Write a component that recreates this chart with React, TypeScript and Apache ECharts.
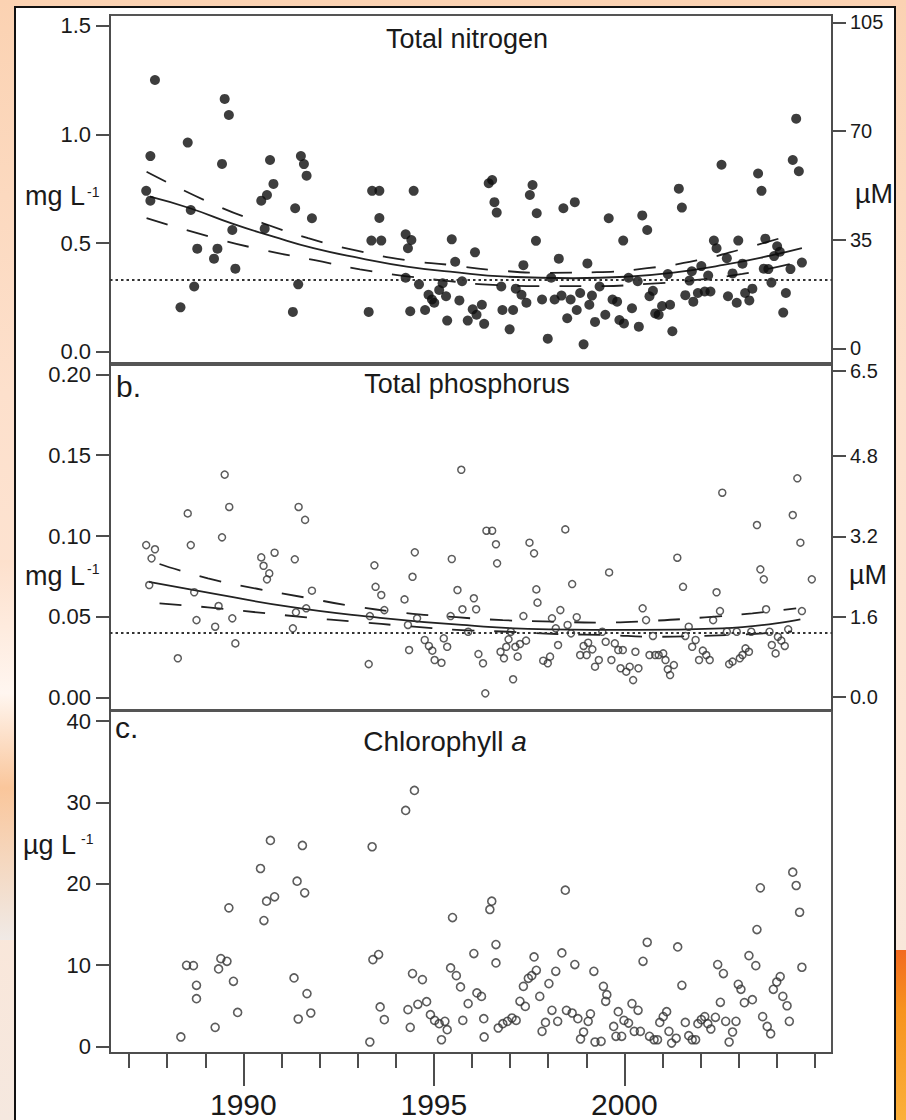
import React, { useEffect, useRef } from "react";
import * as echarts from "echarts";

// ---------- Panel a: Total nitrogen (mg L-1) ----------
const tnYear = [
  1987.68, 1987.56, 1987.45, 1987.56, 1988.35, 1988.54, 1988.62, 1988.71, 1988.79, 1989.23,
  1989.32, 1989.44, 1989.51, 1989.62, 1989.71, 1989.79, 1990.47, 1990.56, 1990.62, 1990.7,
  1990.79, 1991.3, 1991.36, 1991.44, 1991.51, 1991.59, 1991.66, 1991.8, 1993.29, 1993.38,
  1993.57, 1993.57, 1993.36, 1993.62, 1994.26, 1994.32, 1994.41, 1994.47, 1994.26, 1994.38,
  1994.61, 1994.77, 1994.86, 1994.95, 1995.01, 1995.14, 1995.23, 1995.32, 1995.35, 1995.47,
  1995.56, 1995.67, 1995.74, 1995.89, 1996.02, 1996.08, 1996.12, 1996.26, 1996.32, 1996.44,
  1996.53, 1996.59, 1996.65, 1996.77, 1996.8, 1996.99, 1997.08, 1997.15, 1997.3, 1997.35,
  1997.43, 1997.52, 1997.59, 1997.7, 1997.68, 1997.84, 1997.99, 1998.08, 1998.17, 1998.28,
  1998.35, 1998.4, 1998.5, 1998.59, 1998.7, 1998.75, 1998.84, 1998.93, 1999.03, 1999.08,
  1999.15, 1999.23, 1999.35, 1999.5, 1999.59, 1999.69, 1999.81, 1999.87, 1999.97, 1999.99,
  2000.11, 2000.2, 2000.35, 2000.38, 2000.47, 2000.6, 2000.66, 2000.75, 2000.81, 2000.9,
  2000.99, 2001.14, 2001.2, 2001.26, 2001.43, 2001.51, 2001.6, 2001.71, 2001.77, 2001.81,
  2001.93, 2002.02, 2002.11, 2002.2, 2002.26, 2002.35, 2002.42, 2002.55, 2002.69, 2002.72,
  2002.84, 2002.95, 2002.99, 2003.1, 2003.17, 2003.28, 2003.36, 2003.51, 2003.6, 2003.66,
  2003.7, 2003.78, 2003.86, 2003.93, 2004.01, 2004.08, 2004.17, 2004.24, 2004.36, 2004.42,
  2004.51, 2004.58, 2004.66,
];
const tnValue = [
  1.25, 0.9, 0.74, 0.695, 0.204, 0.962, 0.652, 0.3, 0.474, 0.428,
  0.474, 0.864, 1.163, 1.089, 0.56, 0.382, 0.695, 0.566, 0.721, 0.882,
  0.772, 0.183, 0.66, 0.31, 0.9, 0.863, 0.81, 0.614, 0.183, 0.74,
  0.74, 0.615, 0.511, 0.511, 0.54, 0.476, 0.514, 0.74, 0.34, 0.186,
  0.31, 0.192, 0.262, 0.24, 0.225, 0.284, 0.315, 0.255, 0.143, 0.517,
  0.414, 0.236, 0.324, 0.143, 0.195, 0.457, 0.17, 0.216, 0.128, 0.775,
  0.79, 0.688, 0.64, 0.3, 0.192, 0.103, 0.192, 0.29, 0.262, 0.398,
  0.225, 0.721, 0.767, 0.637, 0.51, 0.24, 0.06, 0.34, 0.24, 0.428,
  0.258, 0.66, 0.154, 0.24, 0.688, 0.192, 0.27, 0.034, 0.406, 0.216,
  0.258, 0.137, 0.3, 0.17, 0.614, 0.24, 0.23, 0.146, 0.511, 0.13,
  0.34, 0.2, 0.324, 0.115, 0.627, 0.56, 0.255, 0.28, 0.176, 0.17,
  0.21, 0.357, 0.216, 0.094, 0.75, 0.663, 0.26, 0.327, 0.37, 0.23,
  0.27, 0.394, 0.277, 0.35, 0.277, 0.511, 0.476, 0.86, 0.43, 0.255,
  0.36, 0.225, 0.511, 0.405, 0.27, 0.236, 0.29, 0.82, 0.74, 0.382,
  0.52, 0.38, 0.318, 0.44, 0.485, 0.46, 0.18, 0.27, 0.38, 0.882,
  1.072, 0.83, 0.41,
];
const tnFitYear = [1987.55, 1988.6, 1989.73, 1990.79, 1991.84, 1993.06, 1994.29, 1995.43, 1996.91, 1998.66, 2000.06, 2001.29, 2002.6, 2003.91, 2004.66];
const tnFitValue = [0.713, 0.66, 0.588, 0.529, 0.476, 0.43, 0.391, 0.368, 0.345, 0.338, 0.345, 0.364, 0.399, 0.445, 0.476];
const tnUpperYear = [1987.46, 1989.26, 1990.52, 1991.7, 1992.98, 1994.24, 1995.43, 1996.55, 1998.0, 1999.28, 2000.6, 2001.9, 2003.17, 2004.37];
const tnUpperValue = [0.828, 0.675, 0.591, 0.522, 0.465, 0.422, 0.399, 0.376, 0.363, 0.366, 0.384, 0.42, 0.476, 0.537];
const tnLowerYear = [1987.46, 1989.26, 1990.52, 1991.84, 1993.06, 1994.24, 1995.4, 1996.55, 1998.0, 1999.3, 2000.6, 2001.9, 2003.1, 2004.37];
const tnLowerValue = [0.614, 0.522, 0.468, 0.422, 0.379, 0.348, 0.325, 0.307, 0.302, 0.302, 0.312, 0.33, 0.358, 0.404];
const tnReference = 0.333;

// ---------- Panel b: Total phosphorus (mg L-1) ----------
const tpYear = [
  1987.45, 1987.68, 1987.59, 1987.53, 1988.28, 1988.54, 1988.62, 1988.71, 1988.77, 1989.26,
  1989.35, 1989.44, 1989.51, 1989.63, 1989.71, 1989.79, 1990.47, 1990.53, 1990.62, 1990.68,
  1990.82, 1991.3, 1991.35, 1991.45, 1991.62, 1991.38, 1991.65, 1991.8, 1993.29, 1993.32,
  1993.44, 1993.47, 1993.62, 1993.7, 1994.23, 1994.32, 1994.35, 1994.44, 1994.5, 1994.56,
  1994.76, 1994.87, 1994.96, 1995.02, 1995.2, 1995.26, 1995.35, 1995.44, 1995.47, 1995.62,
  1995.72, 1995.75, 1995.9, 1996.05, 1996.11, 1996.17, 1996.29, 1996.35, 1996.38, 1996.53,
  1996.63, 1996.66, 1996.75, 1996.84, 1996.9, 1996.96, 1997.02, 1997.08, 1997.14, 1997.2,
  1997.26, 1997.35, 1997.42, 1997.51, 1997.63, 1997.69, 1997.72, 1997.87, 1997.99, 1998.05,
  1998.1, 1998.2, 1998.26, 1998.32, 1998.45, 1998.51, 1998.6, 1998.63, 1998.75, 1998.84,
  1998.93, 1999.01, 1999.05, 1999.16, 1999.23, 1999.33, 1999.42, 1999.51, 1999.6, 1999.66,
  1999.75, 1999.84, 1999.9, 1999.96, 2000.05, 2000.14, 2000.23, 2000.29, 2000.37, 2000.48,
  2000.57, 2000.66, 2000.75, 2000.81, 2000.9, 2001.02, 2001.08, 2001.14, 2001.2, 2001.3,
  2001.39, 2001.54, 2001.6, 2001.69, 2001.78, 2001.87, 2001.96, 2002.06, 2002.15, 2002.24,
  2002.33, 2002.42, 2002.51, 2002.57, 2002.69, 2002.75, 2002.84, 2002.95, 2003.03, 2003.1,
  2003.18, 2003.27, 2003.33, 2003.48, 2003.57, 2003.66, 2003.72, 2003.81, 2003.87, 2003.97,
  2004.03, 2004.12, 2004.21, 2004.3, 2004.42, 2004.54, 2004.62, 2004.66, 2004.92,
];
const tpValue = [
  0.0944, 0.0918, 0.0862, 0.0697, 0.0244, 0.114, 0.0944, 0.0652, 0.048, 0.0439,
  0.0567, 0.0992, 0.138, 0.118, 0.0491, 0.0336, 0.0868, 0.0816, 0.0732, 0.0769,
  0.0897, 0.0429, 0.0856, 0.118, 0.11, 0.0528, 0.0553, 0.0662, 0.0208, 0.0505,
  0.0819, 0.0686, 0.0635, 0.0542, 0.0608, 0.045, 0.0295, 0.0748, 0.0899, 0.0491,
  0.0357, 0.032, 0.0291, 0.0233, 0.0216, 0.0367, 0.0315, 0.0505, 0.0858, 0.0666,
  0.141, 0.0547, 0.0408, 0.0615, 0.0547, 0.027, 0.0213, 0.0027, 0.1033, 0.1033,
  0.0949, 0.0831, 0.0284, 0.0244, 0.0315, 0.0361, 0.0408, 0.0114, 0.0315, 0.0254,
  0.0332, 0.0505, 0.0353, 0.0959, 0.0893, 0.067, 0.0588, 0.0229, 0.0213, 0.0254,
  0.0491, 0.0429, 0.0326, 0.0542, 0.1041, 0.045, 0.0398, 0.0703, 0.0498, 0.0264,
  0.032, 0.0264, 0.034, 0.0299, 0.0192, 0.0233, 0.0408, 0.0346, 0.0775, 0.0233,
  0.0336, 0.0295, 0.0182, 0.0295, 0.0161, 0.0192, 0.0109, 0.0284, 0.0182, 0.0553,
  0.048, 0.0264, 0.0382, 0.0264, 0.0264, 0.0274, 0.0233, 0.0176, 0.014, 0.0202,
  0.0866, 0.0686, 0.0382, 0.0439, 0.0315, 0.0357, 0.0233, 0.0291, 0.0264, 0.0233,
  0.048, 0.0652, 0.0536, 0.1268, 0.0408, 0.0208, 0.0223, 0.0408, 0.0244, 0.0264,
  0.0305, 0.0284, 0.0408, 0.1068, 0.0794, 0.0732, 0.0547, 0.0408, 0.0326, 0.0274,
  0.0377, 0.0353, 0.032, 0.0423, 0.113, 0.1357, 0.0959, 0.0536, 0.0732,
];
const tpFitYear = [1987.52, 1988.71, 1991.19, 1993.32, 1995.74, 1998.02, 2000.29, 2002.57, 2004.62];
const tpFitValue = [0.0717, 0.0666, 0.0563, 0.0501, 0.045, 0.0423, 0.0419, 0.0429, 0.0485];
const tpUpperYear = [1987.8, 1989.07, 1990.36, 1991.59, 1992.86, 1994.23, 1995.59, 1996.81, 1998.17, 1999.38, 2000.75, 2002.11, 2003.36, 2004.51];
const tpUpperValue = [0.0827, 0.0738, 0.0674, 0.0621, 0.0567, 0.0525, 0.0498, 0.048, 0.047, 0.0465, 0.0476, 0.0497, 0.0522, 0.0553];
const tpLowerYear = [1987.8, 1989.07, 1990.36, 1991.65, 1992.94, 1994.3, 1995.6, 1996.96, 1998.25, 1999.54, 2000.75, 2002.04, 2003.33, 2004.4];
const tpLowerValue = [0.0584, 0.0559, 0.0528, 0.0497, 0.047, 0.0443, 0.042, 0.0408, 0.0394, 0.0388, 0.0377, 0.0382, 0.0394, 0.041];
const tpReference = 0.042;

// ---------- Panel c: Chlorophyll a (ug L-1) ----------
const chlYear = [
  1988.36, 1988.51, 1988.69, 1988.77, 1988.77, 1989.26, 1989.35, 1989.41, 1989.57, 1989.62,
  1989.74, 1989.85, 1990.45, 1990.54, 1990.61, 1990.71, 1990.82, 1991.33, 1991.41, 1991.44,
  1991.55, 1991.61, 1991.67, 1991.77, 1993.32, 1993.38, 1993.4, 1993.55, 1993.59, 1993.7,
  1994.26, 1994.49, 1994.32, 1994.38, 1994.44, 1994.58, 1994.7, 1994.81, 1994.91, 1995.02,
  1995.14, 1995.2, 1995.29, 1995.35, 1995.44, 1995.49, 1995.59, 1995.7, 1995.76, 1995.9,
  1996.05, 1996.13, 1996.25, 1996.31, 1996.32, 1996.47, 1996.52, 1996.63, 1996.63, 1996.69,
  1996.81, 1996.93, 1997.05, 1997.16, 1997.26, 1997.4, 1997.35, 1997.48, 1997.57, 1997.63,
  1997.69, 1997.78, 1997.84, 1997.93, 1998.02, 1998.1, 1998.2, 1998.25, 1998.36, 1998.45,
  1998.48, 1998.63, 1998.7, 1998.78, 1998.85, 1998.93, 1999.05, 1999.11, 1999.2, 1999.23,
  1999.39, 1999.45, 1999.54, 1999.51, 1999.72, 1999.78, 1999.84, 1999.93, 1999.99, 2000.11,
  2000.2, 2000.26, 2000.36, 2000.42, 2000.49, 2000.6, 2000.66, 2000.78, 2000.87, 2000.93,
  2001.02, 2001.11, 2001.17, 2001.24, 2001.36, 2001.4, 2001.51, 2001.6, 2001.69, 2001.78,
  2001.87, 2001.93, 2002.02, 2002.11, 2002.19, 2002.27, 2002.39, 2002.45, 2002.52, 2002.6,
  2002.66, 2002.75, 2002.84, 2002.93, 2002.99, 2003.06, 2003.15, 2003.27, 2003.36, 2003.45,
  2003.48, 2003.57, 2003.63, 2003.75, 2003.84, 2003.91, 2004.0, 2004.09, 2004.16, 2004.27,
  2004.33, 2004.42, 2004.51, 2004.6, 2004.66,
];
const chlValue = [
  1.16, 9.97, 9.93, 7.51, 5.87, 2.34, 9.52, 10.79, 10.46, 17.03,
  8.0, 4.18, 21.87, 15.47, 17.85, 25.32, 18.39, 8.42, 20.31, 3.37,
  24.7, 18.88, 6.49, 4.11, 0.54, 24.54, 10.67, 11.29, 4.85, 3.29,
  29.01, 31.47, 4.52, 2.34, 8.95, 5.17, 8.21, 5.5, 3.9, 3.2,
  2.79, 0.82, 3.08, 2.06, 9.65, 15.84, 8.7, 7.31, 3.2, 5.26,
  11.41, 6.57, 6.15, 3.41, 1.16, 16.83, 17.85, 12.52, 10.26, 2.26,
  2.79, 3.08, 3.49, 3.2, 5.54, 4.92, 7.38, 8.37, 8.7, 11.0,
  9.35, 6.15, 1.85, 2.95, 7.72, 4.44, 9.23, 3.08, 11.49, 19.2,
  4.43, 4.11, 10.06, 3.41, 0.91, 1.77, 3.08, 4.0, 9.23, 0.54,
  0.62, 7.38, 6.36, 5.54, 2.46, 1.24, 4.27, 1.24, 3.2, 2.87,
  5.26, 1.85, 4.44, 1.85, 10.46, 12.8, 1.24, 0.82, 0.82, 2.95,
  3.66, 4.27, 1.85, 0.41, 1.0, 12.23, 7.51, 2.95, 1.32, 0.82,
  0.82, 2.79, 3.29, 3.66, 2.79, 2.14, 3.58, 10.06, 5.42, 8.95,
  3.08, 0.54, 1.77, 3.08, 7.63, 7.02, 5.38, 11.16, 5.74, 9.93,
  14.36, 19.49, 3.66, 2.46, 1.56, 7.02, 7.92, 8.58, 6.15, 5.0,
  3.08, 21.42, 19.78, 16.49, 9.73,
];

// ---------- Axes ----------
const yearTicks = [1987, 1988, 1989, 1990, 1991, 1992, 1993, 1994, 1995, 1996, 1997, 1998, 1999, 2000, 2001, 2002, 2003, 2004, 2005];
const yearLabels = [1990, 1995, 2000];
const tnTicks = [0, 0.5, 1.0, 1.5];
const tnMicroTicks = [0, 35, 70, 105];
const tpTicks = [0, 0.05, 0.1, 0.15, 0.2];
const tpMicroTicks = [0, 1.6, 3.2, 4.8, 6.5];
const chlTicks = [0, 10, 20, 30, 40];

const FONT = '"Liberation Sans", Arial, Helvetica, sans-serif';
const INK = "#1a1a1a";
const AXIS = "#4d4d4d";
const X_MIN = 1986.5;
const X_MAX = 2005.45;

function pairs(xs: number[], ys: number[]) {
  return xs.map((x, i) => [x, ys[i]]);
}

const axisLine = { color: AXIS, width: 2 };

function yAxis(gridIndex: number, position: string, min: number, max: number, ticks: number[], fmt: (v: number) => string) {
  const left = position === "left";
  return {
    type: "value",
    gridIndex,
    position,
    min,
    max,
    splitLine: { show: false },
    axisLine: { show: true, onZero: false, lineStyle: axisLine },
    axisTick: { show: true, inside: false, length: 14, customValues: ticks, lineStyle: axisLine },
    axisLabel: {
      show: true,
      customValues: ticks,
      formatter: fmt,
      fontSize: left ? 22 : 20,
      lineHeight: left ? 20 : 17,
      color: INK,
      fontFamily: FONT,
      margin: left ? 19 : 18,
    },
  };
}

function xAxis(gridIndex: number, extra: any) {
  return {
    type: "value",
    gridIndex,
    min: X_MIN,
    max: X_MAX,
    splitLine: { show: false },
    ...extra,
  };
}

function curve(xs: number[], ys: number[], dashed: boolean, xi: number, yi: number) {
  return {
    type: "line",
    xAxisIndex: xi,
    yAxisIndex: yi,
    data: pairs(xs, ys),
    smooth: true,
    showSymbol: false,
    symbol: "none",
    silent: true,
    z: 3,
    lineStyle: { color: "#222", width: 1.8, type: dashed ? [22, 20] : "solid" },
  };
}

function refLine(v: number) {
  return {
    silent: true,
    symbol: ["none", "none"],
    label: { show: false },
    lineStyle: { color: "#333", width: 2, type: [2.5, 3] },
    data: [{ yAxis: v }],
  };
}

function txt(x: number, y: number, text: string, size: number, align = "left", extra: any = {}) {
  return {
    type: "text",
    x,
    y,
    z: 10,
    silent: true,
    style: {
      text,
      fontSize: size,
      fontFamily: FONT,
      fill: INK,
      align,
      textAlign: align,
      verticalAlign: "middle",
      textVerticalAlign: "middle",
      ...extra,
    },
  };
}

function buildOption() {
  const gridBase = { left: 110, width: 722, show: true, borderColor: "#555", borderWidth: 2, containLabel: false };
  const openCircle = (size: number, bw: number) => ({
    symbol: "circle",
    symbolSize: size,
    itemStyle: { color: "rgba(255,255,255,0)", borderColor: "#333", borderWidth: bw },
  });
  return {
    animation: false,
    textStyle: { fontFamily: FONT },
    grid: [
      { ...gridBase, top: 15, height: 348 },
      { ...gridBase, top: 365, height: 345 },
      { ...gridBase, top: 711, height: 342 },
    ],
    xAxis: [
      xAxis(0, { show: false }),
      xAxis(1, { show: false }),
      xAxis(2, {
        position: "bottom",
        axisLine: { show: true, onZero: false, lineStyle: axisLine },
        axisTick: { show: true, length: 15, customValues: yearTicks, lineStyle: axisLine },
        axisLabel: { show: false },
      }),
      xAxis(2, {
        position: "bottom",
        axisLine: { show: false, onZero: false },
        axisTick: { show: true, length: 33, customValues: yearLabels, lineStyle: axisLine },
        axisLabel: {
          show: true,
          customValues: yearLabels,
          formatter: (v: number) => String(v),
          fontSize: 30,
          lineHeight: 26,
          margin: 38,
          color: INK,
          fontFamily: FONT,
        },
      }),
    ],
    yAxis: [
      yAxis(0, "left", -0.052, 1.549, tnTicks, (v) => v.toFixed(1)),
      yAxis(0, "right", -4.67, 107.37, tnMicroTicks, (v) => String(v)),
      yAxis(1, "left", -0.0076, 0.2058, tpTicks, (v) => v.toFixed(2)),
      yAxis(1, "right", -0.265, 6.62, tpMicroTicks, (v) => v.toFixed(1)),
      yAxis(2, "left", -0.81, 41.23, chlTicks, (v) => String(v)),
    ],
    series: [
      curve(tnFitYear, tnFitValue, false, 0, 0),
      curve(tnUpperYear, tnUpperValue, true, 0, 0),
      curve(tnLowerYear, tnLowerValue, true, 0, 0),
      {
        type: "scatter",
        xAxisIndex: 0,
        yAxisIndex: 0,
        data: pairs(tnYear, tnValue),
        symbol: "circle",
        symbolSize: 10,
        z: 4,
        itemStyle: { color: "#0d0d0d" },
        markLine: refLine(tnReference),
      },
      curve(tpFitYear, tpFitValue, false, 1, 2),
      curve(tpUpperYear, tpUpperValue, true, 1, 2),
      curve(tpLowerYear, tpLowerValue, true, 1, 2),
      {
        type: "scatter",
        xAxisIndex: 1,
        yAxisIndex: 2,
        data: pairs(tpYear, tpValue),
        z: 4,
        ...openCircle(7, 1.5),
        markLine: refLine(tpReference),
      },
      {
        type: "scatter",
        xAxisIndex: 2,
        yAxisIndex: 4,
        data: pairs(chlYear, chlValue),
        z: 4,
        ...openCircle(8, 1.6),
      },
    ],
    graphic: [
      txt(467, 39, "Total nitrogen", 27, "center"),
      txt(467, 384, "Total phosphorus", 27, "center"),
      {
        type: "text",
        x: 445,
        y: 741,
        z: 10,
        silent: true,
        style: {
          text: "{n|Chlorophyll }{i|a}",
          align: "center",
          textAlign: "center",
          verticalAlign: "middle",
          textVerticalAlign: "middle",
          fill: INK,
          fontSize: 28,
          fontFamily: FONT,
          rich: {
            n: { fontSize: 28, fontFamily: FONT, fill: INK, color: INK },
            i: { fontSize: 28, fontFamily: FONT, fontStyle: "italic", fill: INK, color: INK },
          },
        },
      },
      txt(116, 386, "b.", 30),
      txt(115, 727, "c.", 30),
      txt(25, 196, "mg L", 27),
      txt(87, 191.5, "-1", 14),
      txt(25, 576, "mg L", 27),
      txt(87, 568.5, "-1", 14),
      txt(23, 845, "µg L", 27),
      txt(81, 838.5, "-1", 14),
      txt(855, 194, "µM", 27),
      txt(849, 575, "µM", 27),
    ],
  };
}

export default function App() {
  const ref = useRef<HTMLDivElement>(null);
  useEffect(() => {
    if (!ref.current) return;
    const chart = echarts.init(ref.current, null, { renderer: "svg" });
    chart.setOption(buildOption() as any);
    return () => chart.dispose();
  }, []);
  return (
    <div
      style={{
        position: "absolute",
        left: 0,
        top: 0,
        width: 906,
        height: 1120,
        overflow: "hidden",
        background: "linear-gradient(180deg, #fbd2b2 0%, #fde0cc 35%, #fde6d6 70%, #f5e8df 100%)",
      }}
    >
      <div
        style={{
          position: "absolute",
          left: 0,
          top: 560,
          width: 14,
          height: 380,
          background: "linear-gradient(180deg, rgba(253,224,204,1) 0%, rgba(255,246,240,1) 35%, rgba(249,190,140,0.8) 60%, rgba(240,234,230,1) 100%)",
        }}
      />
      <div
        style={{
          position: "absolute",
          left: 896,
          top: 950,
          width: 10,
          height: 170,
          background: "linear-gradient(180deg, #f26a21 0%, #f7931e 35%, #fbb03b 100%)",
        }}
      />
      <div
        style={{
          position: "absolute",
          left: 14,
          top: 6,
          width: 882,
          height: 1114,
          boxSizing: "border-box",
          border: "2px solid #111",
          borderBottom: "none",
          background: "#fff",
        }}
      />
      <div ref={ref} style={{ position: "absolute", left: 0, top: 0, width: 906, height: 1120 }} />
    </div>
  );
}
